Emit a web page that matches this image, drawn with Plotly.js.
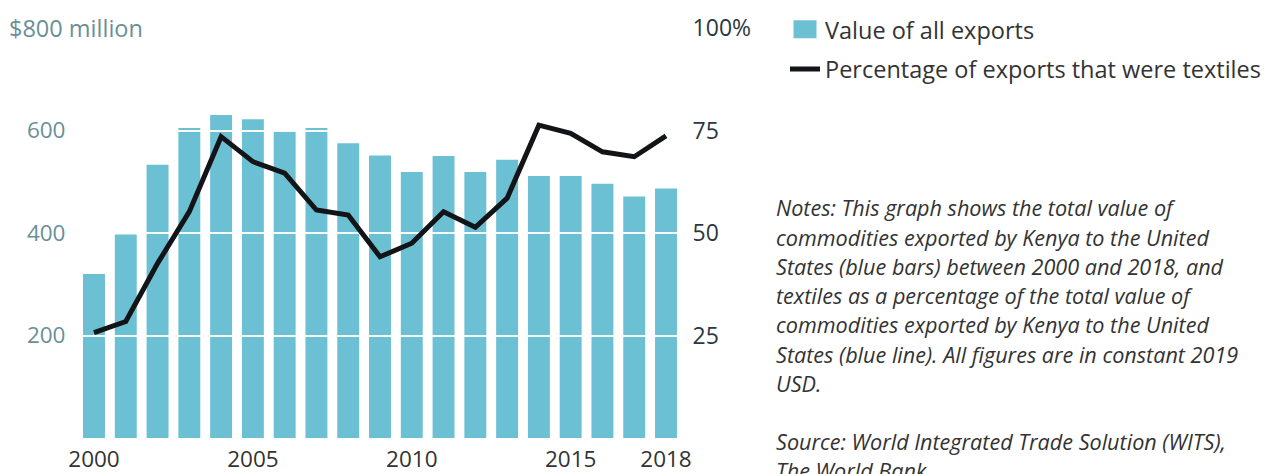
<!DOCTYPE html>
<html><head><meta charset="utf-8">
<script src="https://cdn.plot.ly/plotly-3.0.1.min.js"></script>
<style>html,body{margin:0;padding:0;background:#fff;} #chart{width:1266px;height:474px;}</style>
</head><body><div id="chart"></div>
<script>
const years = [2000,2001,2002,2003,2004,2005,2006,2007,2008,2009,2010,2011,2012,2013,2014,2015,2016,2017,2018];
const exportValues = [320,397,533,605,630,622,599,605,575,551,519,550,519,543,511,511,496,471,487];
const textilePct = [25.7,28.4,42.6,55.2,73.5,67.4,64.6,55.6,54.4,44.2,47.5,55.2,51.4,58.5,76.3,74.3,69.8,68.6,73.7];
const xTickVals = [2000,2005,2010,2015,2018];
const leftTickVals = [200,400,600];
const leftTickText = ['200','400','600'];
const leftTopLabel = '$800 million';
const rightTickVals = [25,50,75,100];
const rightTickText = ['25','50','75','100%'];
const seriesNames = ['Value of all exports','Percentage of exports that were textiles'];
const noteLines = [
  'Notes: This graph shows the total value of',
  'commodities exported by Kenya to the United',
  'States (blue bars) between 2000 and 2018, and',
  'textiles as a percentage of the total value of',
  'commodities exported by Kenya to the United',
  'States (blue line). All figures are in constant 2019',
  'USD.',
  '',
  'Source: World Integrated Trade Solution (WITS),',
  'The World Bank'
];

const FONT = '"Open Sans", Lato, sans-serif';
const W = 1266, H = 474, L = 83, R = 677, T = 28, B = 438;
const pw = R - L, ph = B - T;
const px2x = p => (p - L) / pw;
const py2y = p => (B - p) / ph;

const traces = [
  {type:'bar', x: years, y: exportValues, name: seriesNames[0], xaxis:'x', yaxis:'y',
   marker:{color:'#6cc0d4'}, legendgroup:'a', hoverinfo:'skip'},
  {type:'scatter', mode:'lines', x: years, y: textilePct, name: seriesNames[1], xaxis:'x2', yaxis:'y2',
   line:{color:'#121417', width:5}, legendgroup:'b', hoverinfo:'skip'}
];

const annotations = [
  {text: leftTopLabel, xref:'paper', yref:'y', x: px2x(7), y: 800, xanchor:'left', yanchor:'middle',
   showarrow:false, font:{family:FONT, size:23.5, color:'#6a8f99'}}
];
noteLines.forEach((t, i) => {
  if (!t) return;
  annotations.push({text: t, xref:'paper', yref:'paper', x: px2x(774), y: py2y(208 + i*29.2),
    xanchor:'left', yanchor:'middle', showarrow:false,
    font:{family:FONT, size:21.6, color:'#333', style:'italic'}});
});

const xr = [1999.654, 2018.346];
const layout = {
  width: W, height: H,
  margin:{l:L, r:W-R, t:T, b:H-B, pad:0},
  paper_bgcolor:'#fff', plot_bgcolor:'rgba(0,0,0,0)',
  bargap: 0.31,
  showlegend: true,
  legend:{x: px2x(740), y: py2y(16), xanchor:'left', yanchor:'top', traceorder:'grouped',
    tracegroupgap: 6, font:{family:FONT, size:23.5, color:'#333'}, bgcolor:'rgba(0,0,0,0)'},
  xaxis:{domain:[0,1], range: xr, tickvals: xTickVals, showgrid:false, zeroline:false, showline:false,
    ticks:'outside', ticklen:1, tickcolor:'rgba(0,0,0,0)', tickfont:{family:FONT, size:22.5, color:'#333'}},
  yaxis:{range:[0,800], tickvals: leftTickVals, ticktext: leftTickText, showgrid:false, zeroline:false,
    showline:false, ticks:'outside', ticklen:12, tickcolor:'rgba(0,0,0,0)',
    tickfont:{family:FONT, size:22.5, color:'#6a8f99'}},
  xaxis2:{domain:[0,1], range: xr, anchor:'y2', visible:false, showgrid:false},
  yaxis2:{domain:[0,1], anchor:'x2', side:'right', range:[0,100], tickvals: rightTickVals, ticktext: rightTickText,
    showgrid:true, gridcolor:'rgba(255,255,255,0.95)', gridwidth:2, zeroline:false, showline:false,
    ticks:'outside', ticklen:10, tickcolor:'rgba(0,0,0,0)', tickfont:{family:FONT, size:23, color:'#2b3840'}},
  annotations: annotations
};

function tidyLegend() {
  const leg = document.querySelector('#chart .legend');
  if (!leg) return;
  leg.querySelectorAll('.legendpoints path').forEach(p => {
    if ((p.getAttribute('class') || '').indexOf('legendbar') >= 0 || /^M6,6H-6V-6H6Z$/.test(p.getAttribute('d') || '')) {
      p.setAttribute('d', 'M11.5,9H-11.5V-9H11.5Z');
    }
  });
  const txt = leg.querySelector('text.legendtext');
  if (!txt) return;
  const box = document.querySelector('#chart .main-svg').getBoundingClientRect();
  const r = txt.getBoundingClientRect();
  const cy = (r.top + r.bottom) / 2 - box.top;
  const lx = r.left - box.left;
  const dy = 29.5 - cy;
  const dx = 825 - lx;
  const m = /translate\(\s*([-\d.]+)[ ,]+([-\d.]+)\s*\)/.exec(leg.getAttribute('transform') || '');
  if (m && (Math.abs(dy) > 0.3 || Math.abs(dx) > 0.3)) {
    leg.setAttribute('transform', 'translate(' + (parseFloat(m[1]) + dx) + ',' + (parseFloat(m[2]) + dy) + ')');
  }
}
Plotly.newPlot('chart', traces, layout, {staticPlot:true, displayModeBar:false}).then(gd => {
  tidyLegend();
  gd.on('plotly_afterplot', tidyLegend);
  setTimeout(tidyLegend, 50);
  setTimeout(tidyLegend, 300);
});
</script></body></html>
